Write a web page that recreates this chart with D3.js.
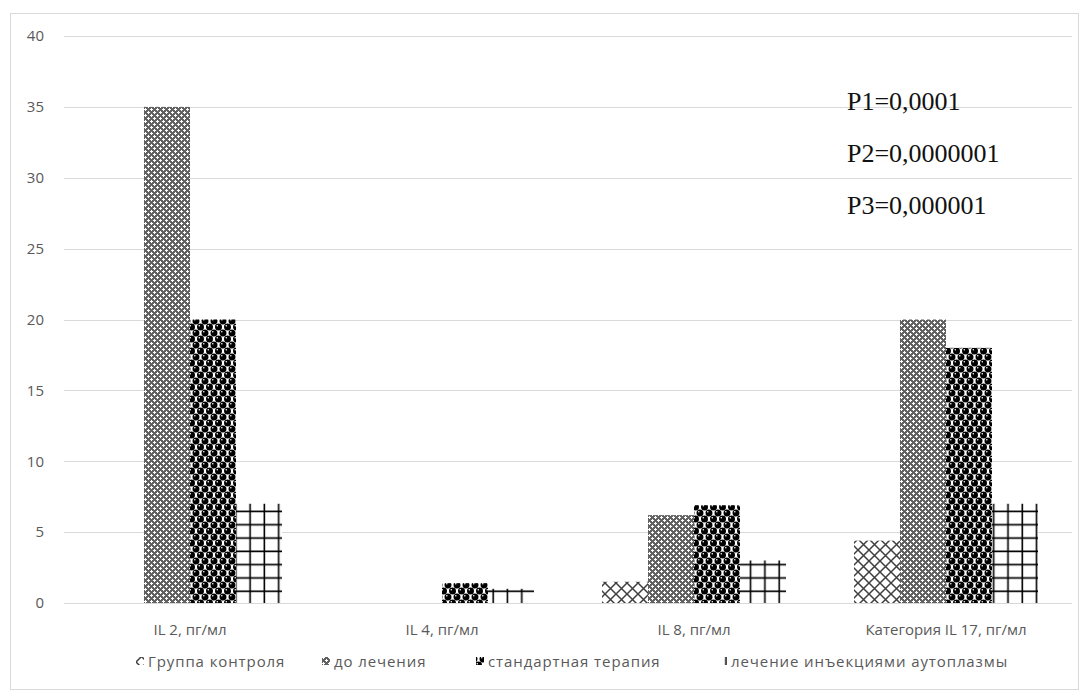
<!DOCTYPE html>
<html>
<head>
<meta charset="utf-8">
<script src="https://cdn.jsdelivr.net/npm/d3@7"></script>
<style>
  html, body { margin: 0; padding: 0; background: #fff; }
  svg { display: block; }
</style>
</head>
<body>
<svg id="chart" width="1082" height="698"></svg>
<script>
// Cytokine levels by group
const categories = ["IL 2, пг/мл", "IL 4, пг/мл", "IL 8, пг/мл", "Категория IL 17, пг/мл"];
const seriesNames = ["Группа контроля", "до лечения", "стандартная терапия", "лечение инъекциями аутоплазмы"];
const controlGroup = [0, 0, 1.5, 4.4];
const beforeTreatment = [35, 0, 6.2, 20];
const standardTherapy = [20, 1.4, 6.9, 18];
const autoplasmaTherapy = [7, 1, 3, 7];
const yTicks = [0, 5, 10, 15, 20, 25, 30, 35, 40];
const pValues = ["P1=0,0001", "P2=0,0000001", "P3=0,000001"];

const seriesValues = [controlGroup, beforeTreatment, standardTherapy, autoplasmaTherapy];

const svg = d3.select("#chart");
const plot = { left: 64, right: 1072, top: 36, bottom: 603 };
const textGray = "#595959";
const uiFont = "'Open Sans', 'Noto Sans', sans-serif";

// chart frame
svg.append("rect")
  .attr("x", 10.5).attr("y", 13.5)
  .attr("width", 1068).attr("height", 676)
  .attr("fill", "#fff").attr("stroke", "#d9d9d9");

// ---- fill patterns ----
const defs = svg.append("defs");

// wide diagonal lattice
const p0 = defs.append("pattern").attr("id", "pat0")
  .attr("patternUnits", "userSpaceOnUse").attr("width", 11).attr("height", 11);
p0.append("rect").attr("width", 11).attr("height", 11).attr("fill", "#fff");
p0.append("path").attr("d", "M0,0L11,11M11,0L0,11M-1,10L1,12M10,-1L12,1")
  .attr("stroke", "#3f3f3f").attr("stroke-width", 1.5).attr("fill", "none");

// fine dotted dither
const p1 = defs.append("pattern").attr("id", "pat1")
  .attr("patternUnits", "userSpaceOnUse").attr("width", 6).attr("height", 6);
p1.append("rect").attr("width", 6).attr("height", 6).attr("fill", "#626262");
[[1, 1], [4, 4]].forEach(([cx, cy]) => {
  p1.append("rect").attr("x", cx - 1).attr("y", cy).attr("width", 3).attr("height", 1).attr("fill", "#fff");
  p1.append("rect").attr("x", cx).attr("y", cy - 1).attr("width", 1).attr("height", 3).attr("fill", "#fff");
});

// spheres
const p2 = defs.append("pattern").attr("id", "pat2")
  .attr("patternUnits", "userSpaceOnUse").attr("width", 9).attr("height", 12);
p2.append("rect").attr("width", 9).attr("height", 12).attr("fill", "#fff");
[[2.5, 3], [7, 9], [-2, 9], [11.5, 3], [7, -3], [-2, -3], [2.5, 15]].forEach(([cx, cy]) => {
  p2.append("circle").attr("cx", cx).attr("cy", cy).attr("r", 3.5).attr("fill", "#000");
  p2.append("circle").attr("cx", cx - 1.2).attr("cy", cy - 1.2).attr("r", 0.8).attr("fill", "#fff");
});

// large grid
const p3 = defs.append("pattern").attr("id", "pat3")
  .attr("patternUnits", "userSpaceOnUse").attr("width", 14.3).attr("height", 13.3);
p3.append("rect").attr("width", 14.3).attr("height", 13.3).attr("fill", "#fff");
p3.append("path").attr("d", "M7,0V13.3M0,6H14.3")
  .attr("stroke", "#000").attr("stroke-width", 1.6).attr("fill", "none");

// ---- scales ----
const x = d3.scaleBand().domain(categories).range([plot.left, plot.right]).paddingInner(0).paddingOuter(0);
const xs = d3.scaleBand().domain(d3.range(seriesNames.length)).range([0, x.bandwidth()])
  .paddingInner(0).paddingOuter(0.739);
const y = d3.scaleLinear().domain([0, 40]).range([plot.bottom, plot.top]);

// gridlines
svg.append("g").selectAll("line").data(yTicks).join("line")
  .attr("x1", plot.left).attr("x2", plot.right)
  .attr("y1", d => Math.round(y(d)) + 0.5).attr("y2", d => Math.round(y(d)) + 0.5)
  .attr("stroke", "#d9d9d9").attr("stroke-width", 1);

// y axis labels
const yAxis = d3.axisLeft(y).tickValues(yTicks).tickSize(0).tickPadding(0);
const gy = svg.append("g").attr("transform", `translate(${44},0)`).call(yAxis);
gy.select(".domain").remove();
gy.selectAll("text").attr("fill", textGray).style("font-family", uiFont).style("font-size", "15px");

// bars
const barData = [];
seriesValues.forEach((vals, si) => vals.forEach((v, ci) => barData.push({ si, ci, v })));
svg.append("g").selectAll("rect").data(barData.filter(d => d.v > 0)).join("rect")
  .attr("x", d => x(categories[d.ci]) + xs(d.si))
  .attr("width", xs.bandwidth())
  .attr("y", d => y(d.v))
  .attr("height", d => y(0) - y(d.v))
  .attr("fill", d => `url(#pat${d.si})`);

// category axis
const xAxis = d3.axisBottom(x).tickSize(0).tickPadding(0);
const gx = svg.append("g").attr("transform", `translate(0,${plot.bottom + 32})`).call(xAxis);
gx.select(".domain").remove();
gx.selectAll("text").attr("fill", textGray).attr("dy", 0)
  .style("font-family", uiFont).style("font-size", "15px");

// legend
const legendX = [136, 322, 476, 719];
const lg = svg.append("g").selectAll("g").data(seriesNames).join("g")
  .attr("transform", (d, i) => `translate(${legendX[i]},${662})`);
lg.append("rect").attr("x", 0).attr("y", -5).attr("width", 8).attr("height", 8)
  .attr("fill", (d, i) => `url(#pat${i})`);
lg.append("text").attr("x", 12).attr("y", 5).text(d => d)
  .attr("fill", textGray).style("font-family", uiFont).style("font-size", "15px")
  .style("letter-spacing", "0.9px");

// significance annotations
svg.append("g").selectAll("text").data(pValues).join("text")
  .attr("x", 847).attr("y", (d, i) => 110 + i * 52)
  .text(d => d)
  .attr("fill", "#111")
  .style("font-family", "'Liberation Serif', 'Times New Roman', serif")
  .style("font-size", "26px");
</script>
</body>
</html>
